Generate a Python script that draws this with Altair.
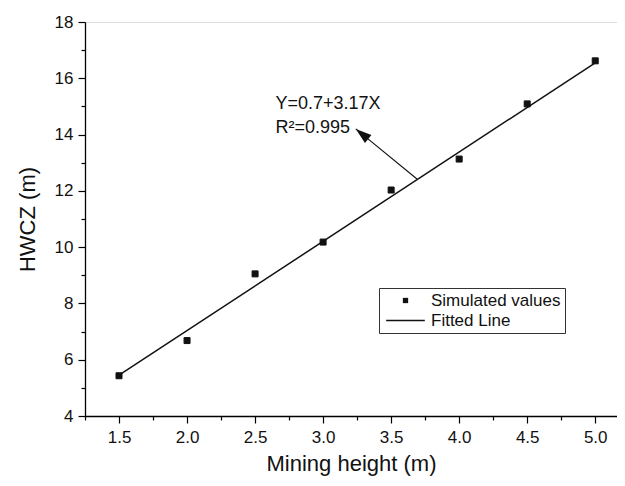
import altair as alt
import pandas as pd

FONT = "Liberation Sans"

# ---- data ----
mining_height = [1.5, 2.0, 2.5, 3.0, 3.5, 4.0, 4.5, 5.0]
hwcz = [5.43, 6.68, 9.05, 10.18, 12.03, 13.13, 15.09, 16.62]
fit_x = [1.5, 5.0]
fit_y = [5.45, 16.55]
series_names = ["Simulated values", "Fitted Line"]
x_ticks = [1.5, 2.0, 2.5, 3.0, 3.5, 4.0, 4.5, 5.0]
x_minor = [1.25, 1.75, 2.25, 2.75, 3.25, 3.75, 4.25, 4.75]
y_ticks = [4, 6, 8, 10, 12, 14, 16, 18]
y_minor = [5, 7, 9, 11, 13, 15, 17]
eq_lines = ["Y=0.7+3.17X", "R²=0.995"]
eq_x = [2.65, 2.65]
eq_y = [15.1, 14.22]
arrow_tip_x, arrow_tip_y = [3.24], [14.2]
arrow_base_x, arrow_base_y = [3.69], [12.42]

x_domain = [1.25, 5.16]
y_domain = [4, 18]

pts = pd.DataFrame({"x": mining_height, "y": hwcz, "series": series_names[0]})
fit = pd.DataFrame({"x": fit_x, "y": fit_y})
eq = pd.DataFrame({"x": eq_x, "y": eq_y, "t": eq_lines})
arrow = pd.DataFrame({"x": arrow_tip_x, "y": arrow_tip_y,
                      "x2": arrow_base_x, "y2": arrow_base_y})

xs = alt.Scale(domain=x_domain, nice=False, zero=False)
ys = alt.Scale(domain=y_domain, nice=False, zero=False)

main_x_axis = alt.Axis(values=x_ticks, format=".1f", tickSize=7, tickWidth=1.2,
                       tickColor="black", domainColor="black", domainWidth=1.3,
                       labelFontSize=17, labelFont=FONT, labelColor="#111",
                       labelPadding=6, titleFontSize=22, titleFont=FONT,
                       titleFontWeight="normal", titleColor="#111",
                       titlePadding=8, grid=False, orient="bottom")
main_y_axis = alt.Axis(values=y_ticks, format="d", tickSize=7, tickWidth=1.2,
                       tickColor="black", domainColor="black", domainWidth=1.3,
                       labelFontSize=17, labelFont=FONT, labelColor="#111",
                       labelPadding=5, titleFontSize=22, titleFont=FONT,
                       titleFontWeight="normal", titleColor="#111",
                       titlePadding=15, grid=False, orient="left")
minor_x_axis = alt.Axis(values=x_minor, tickSize=4, tickWidth=1.2, tickColor="black",
                        labels=False, domain=False, grid=False, orient="bottom",
                        title="")
minor_y_axis = alt.Axis(values=y_minor, tickSize=4, tickWidth=1.2, tickColor="black",
                        labels=False, domain=False, grid=False, orient="left",
                        title="")

# legend glyphs: a filled square for the points, a thin filled bar for the line
legend_shapes = ["square", "M-7.3,-0.25H7.3V0.25H-7.3Z"]

points = alt.Chart(pts).mark_point(
    filled=True, size=36, color="#111", stroke="#111", strokeWidth=1, opacity=1
).encode(
    x=alt.X("x:Q", scale=xs, axis=main_x_axis, title="Mining height (m)"),
    y=alt.Y("y:Q", scale=ys, axis=main_y_axis, title="HWCZ (m)"),
    shape=alt.Shape(
        "series:N",
        scale=alt.Scale(domain=series_names, range=legend_shapes),
        legend=alt.Legend(
            title=None, orient="none", legendX=294, legendY=266,
            strokeColor="#333", fillColor="white", padding=4,
            labelFontSize=17, labelFont=FONT, labelColor="#111",
            labelOffset=17, rowPadding=2, symbolSize=28, symbolOffset=14,
            symbolStrokeWidth=0.5, symbolStrokeColor="#111",
            symbolFillColor="#111", symbolOpacity=1,
        ),
    ),
)

line = alt.Chart(fit).mark_line(color="#111", strokeWidth=1.5).encode(
    x=alt.X("x:Q", scale=xs, axis=minor_x_axis),
    y=alt.Y("y:Q", scale=ys, axis=minor_y_axis),
)

rule = alt.Chart(arrow).mark_rule(color="#111", strokeWidth=1.1).encode(
    x=alt.X("x:Q", scale=xs, axis=None),
    y=alt.Y("y:Q", scale=ys, axis=None),
    x2="x2:Q", y2="y2:Q",
)

head = alt.Chart(arrow).mark_point(
    shape="M0,0L0.32,1L-0.32,1Z", size=1024, angle=309,
    filled=True, color="#111", opacity=1,
).encode(
    x=alt.X("x:Q", scale=xs, axis=None),
    y=alt.Y("y:Q", scale=ys, axis=None),
)

text = alt.Chart(eq).mark_text(align="left", baseline="middle", fontSize=18,
                               font=FONT, color="#111").encode(
    x=alt.X("x:Q", scale=xs, axis=None),
    y=alt.Y("y:Q", scale=ys, axis=None),
    text="t:N",
)

chart = alt.layer(points, line, rule, head, text).resolve_axis(
    x="independent", y="independent"
).properties(
    width=532, height=394,
    autosize=alt.AutoSizeParams(type="none"),
    padding={"left": 77, "top": 14, "right": 0, "bottom": 62},
).configure_view(stroke=None).configure(background="white")

chart.save("out.html", embed_options={"renderer": "svg", "actions": False})
